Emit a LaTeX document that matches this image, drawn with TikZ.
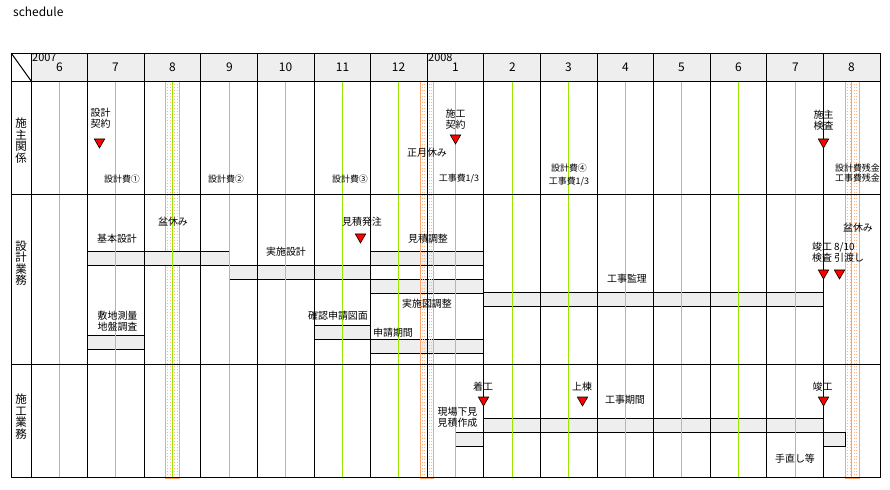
\documentclass[tikz,border=0pt]{standalone}
\usepackage{fontspec}
\setmainfont{Noto Sans CJK JP}
\usetikzlibrary{shapes.geometric}
\definecolor{barfill}{RGB}{238,238,238}
\definecolor{midgreen}{RGB}{153,230,0}
\definecolor{holorange}{RGB}{250,165,110}
%% x position of month edge #1 (0 = Jun 2007), snapped to pixel centres
\newcommand{\mx}[1]{floor(31+(#1)*56.6)+0.5}

\begin{document}
\begin{tikzpicture}[x=1bp, y=-1bp,
  %% styles
  grid/.style={draw=black, line width=1bp},
  grn/.style={draw=midgreen, line width=1bp},
  hol/.style={draw=holorange, line width=1bp},
  holdot/.style={draw=holorange!80, line width=1bp, dotted},
  bar/.style={draw=black, fill=barfill, line width=1bp},
  lbl/.style={font=\fontsize{10}{11}\selectfont, inner sep=0pt, align=center},
  fee/.style={font=\fontsize{9}{13}\selectfont, inner sep=0pt, align=center},
  mon/.style={font=\fontsize{12}{12}\selectfont, inner sep=0pt},
  yr/.style={font=\fontsize{11}{11}\selectfont, inner sep=0pt},
  rowlbl/.style={font=\fontsize{11.5}{11.5}\selectfont, inner sep=0pt, align=center},
  tri/.style={regular polygon, regular polygon sides=3, shape border rotate=180,
              minimum size=12bp, inner sep=0pt, fill=red, draw=black, line width=0.6bp},
]
\useasboundingbox (0,0) rectangle (890,490);

%% title
\node[font=\fontsize{12}{12}\selectfont, anchor=west, inner sep=0pt] (title) at (13,12) {schedule};

%% ------ header ---------------------------------------------------------
\fill[barfill] ({\mx{0}},53.5) rectangle ({\mx{15}},81.5);
\foreach \m [count=\i from 0] in {6,7,8,9,10,11,12,1,2,3,4,5,6,7,8}
  \node[mon] (m\i) at ({\mx{\i+0.5}},67) {\m};
\node[yr, anchor=north west] (y2007) at (32,53.5) {2007};
\node[yr, anchor=north west] (y2008) at (428,53.5) {2008};

%% ------ summer holiday bands -------------------------------------------
\foreach \c in {2.5,14.51} {
  \draw[hol] ({\mx{\c-0.12}},81.5) rectangle ({\mx{\c+0.12}},478.5);
  \foreach \d in {0.04,0.08} {
    \draw[holdot] ({\mx{\c-\d}},81.5) -- ({\mx{\c-\d}},478.5);
    \draw[holdot] ({\mx{\c+\d}},81.5) -- ({\mx{\c+\d}},478.5);
  }
}

%% ------ bars -----------------------------------------------------------
\draw[bar] ({\mx{1}},251.5)   rectangle ({\mx{3.5}},265.5);   % kihon sekkei
\draw[bar] ({\mx{3.5}},265.5) rectangle ({\mx{6}},279.5);     % jisshi sekkei
\draw[bar] ({\mx{6}},251.5)   rectangle ({\mx{8}},265.5);     % mitsumori chousei
\draw[bar] ({\mx{6}},279.5)   rectangle ({\mx{8}},293.5);     % jisshizu chousei
\draw[bar] ({\mx{8}},292.5)   rectangle ({\mx{14}},306.5);    % kouji kanri
\draw[bar] ({\mx{5}},325.5)   rectangle ({\mx{6}},339.5);     % kakunin shinsei
\draw[bar] ({\mx{6}},339.5)   rectangle ({\mx{8}},353.5);     % shinsei kikan
\draw[bar] ({\mx{1}},335.5)   rectangle ({\mx{2}},349.5);     % sokuryou
\draw[bar] ({\mx{8}},418.5)   rectangle ({\mx{14}},432.5);    % kouji kikan
\draw[bar] ({\mx{7.5}},432.5) rectangle ({\mx{8}},446.5);     % genba shitami
\draw[bar] ({\mx{14}},432.5)  rectangle ({\mx{14.39}},446.5); % tenaoshi

%% ------ new year band --------------------------------------------------
\draw[hol] ({\mx{6.88}},81.5) rectangle ({\mx{7.12}},478.5);
\foreach \d in {0.04,0.08} {
  \draw[holdot] ({\mx{7-\d}},81.5) -- ({\mx{7-\d}},478.5);
  \draw[holdot] ({\mx{7+\d}},81.5) -- ({\mx{7+\d}},478.5);
}

%% ------ mid-month lines + grid -----------------------------------------
\foreach \i in {0,...,14}
  \draw[grn] ({\mx{\i+0.5}},81.5) -- ({\mx{\i+0.5}},477.5);
\foreach \y in {53.5,81.5,194.5,364.5,477.5}
  \draw[grid] (11.5,\y) -- ({\mx{15}},\y);
\draw[grid] (11.5,53.5) -- (11.5,477.5);
\foreach \i in {0,...,15}
  \draw[grid] ({\mx{\i}},53.5) -- ({\mx{\i}},477.5);
\draw[grid] (11.5,53.5) -- (31.5,81.5);

%% ------ row labels -----------------------------------------------------
\node[rowlbl] (r1) at (21,140.5) {施\\主\\関\\係};
\node[rowlbl] (r2) at (21,263.5) {設\\計\\業\\務};
\node[rowlbl] (r3) at (21,416.5) {施\\工\\業\\務};

%% ------ row 1 : client -------------------------------------------------
\node[lbl] (keiyaku1) at (100.5,118) {設計\\契約};
\node[tri] (t1) at (99.5,142) {};
\node[lbl] (keiyaku2) at (455.5,119) {施工\\契約};
\node[tri] (t2) at (455.5,138) {};
\node[lbl] (kensa1) at (823.5,120.5) {施主\\検査};
\node[tri] (t3) at (823.5,142) {};
\node[lbl] (shougatsu) at (427,153) {正月休み};
\node[fee] (fee1) at (122,179) {設計費①};
\node[fee] (fee2) at (226,179) {設計費②};
\node[fee] (fee3) at (350,179) {設計費③};
\node[fee] (fee4) at (459,179) {工事費1/3};
\node[fee] (fee5) at (569,175) {設計費④\\工事費1/3};
\node[fee, font=\fontsize{9}{10}\selectfont] (fee6) at (857.5,173) {設計費残金\\工事費残金};

%% ------ row 2 : design -------------------------------------------------
\node[lbl] (bon1) at (173,222) {盆休み};
\node[lbl] (kihon) at (117,239) {基本設計};
\node[lbl] (jisshi) at (286,252) {実施設計};
\node[lbl] (hacchu) at (362,222) {見積発注};
\node[tri] (t4) at (360.5,237) {};
\node[lbl] (chousei) at (428,239) {見積調整};
\node[lbl] (zuchousei) at (427,304) {実施図調整};
\node[lbl] (kanri) at (627,279) {工事監理};
\node[lbl] (kakunin) at (338,316) {確認申請図面};
\node[lbl] (shinsei) at (393,333) {申請期間};
\node[lbl] (sokuryou) at (117.5,321) {敷地測量\\地盤調査};
\node[lbl] (bon2) at (858,228) {盆休み};
\node[lbl] (kensa2) at (822,252.5) {竣工\\検査};
\node[tri] (t5) at (823.5,273) {};
\node[lbl, anchor=west, align=left] (hikiwatashi) at (834,252.5) {8/10\\引渡し};
\node[tri] (t6) at (839.5,273) {};

%% ------ row 3 : construction -------------------------------------------
\node[lbl] (chakkou) at (483,387) {着工};
\node[tri] (t7) at (483.5,400) {};
\node[lbl] (joutou) at (582,387) {上棟};
\node[tri] (t8) at (582.5,400) {};
\node[lbl] (shunkou) at (822.5,387) {竣工};
\node[tri] (t9) at (823.5,400) {};
\node[lbl] (shitami) at (457.5,417) {現場下見\\見積作成};
\node[lbl] (kikan) at (625,400) {工事期間};
\node[lbl] (tenaoshi) at (795,459) {手直し等};

\end{tikzpicture}
\end{document}
